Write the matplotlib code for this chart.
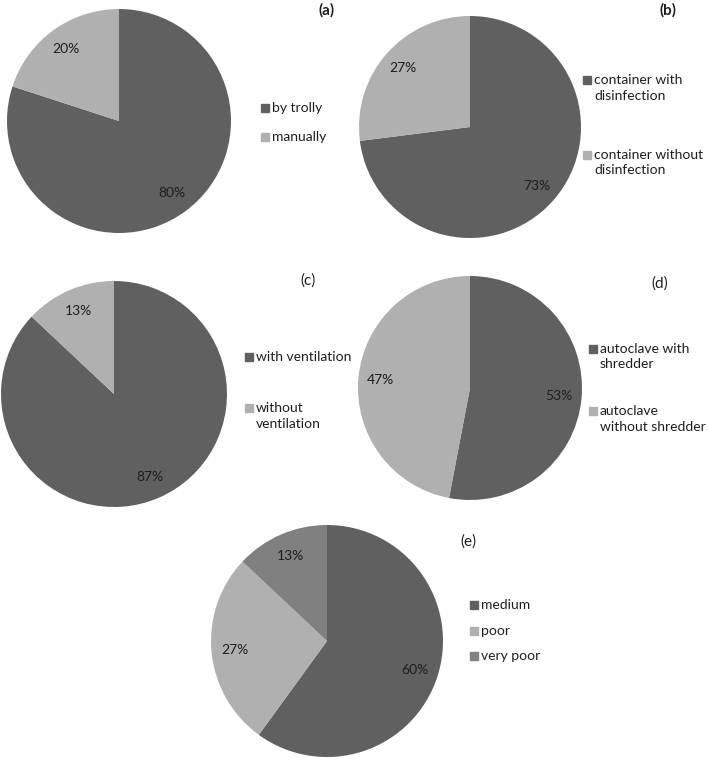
import matplotlib
matplotlib.use("Agg")
from matplotlib import pyplot as plt
from matplotlib.patches import Rectangle

plt.rcParams['font.family'] = ['Lato', 'DejaVu Sans']

# Data for the five pies
labels_a = ["by trolly", "manually"]
values_a = [80, 20]
labels_b = ["container with\ndisinfection", "container without\ndisinfection"]
values_b = [73, 27]
labels_c = ["with ventilation", "without\nventilation"]
values_c = [87, 13]
labels_d = ["autoclave with\nshredder", "autoclave\nwithout shredder"]
values_d = [53, 47]
labels_e = ["medium", "poor", "very poor"]
values_e = [60, 27, 13]

DARK = "#606060"
LIGHT = "#b0b0b0"
MID = "#808080"
TXT = "#1e1e1e"
FS = 10

W, H = 708, 758
fig = plt.figure(figsize=(W / 100, H / 100), dpi=100)


def fx(x):
    return x / W


def fy(y):
    return 1 - y / H


def draw_pie(values, colors, cx, cy, r):
    # axes box in pixel coords, square around the centre
    ax = fig.add_axes([fx(cx - r), fy(cy + r), 2 * r / W, 2 * r / H])
    ax.pie(values, colors=colors, startangle=90, counterclock=False,
           autopct=lambda p: '%.0f%%' % p, pctdistance=0.8,
           textprops={'fontsize': FS, 'color': TXT})
    ax.set_xlim(-1, 1)
    ax.set_ylim(-1, 1)
    ax.set_aspect('auto')
    ax.axis('off')
    return ax


def draw_legend(labels, colors, x, ys, size=8):
    # y = centre of the first line of each entry
    for lab, col, y in zip(labels, colors, ys):
        fig.patches.append(Rectangle((fx(x), fy(y + size / 2)), size / W, size / H,
                                     transform=fig.transFigure, color=col))
        fig.text(fx(x + size + 3), fy(y - 6), lab, fontsize=FS, color=TXT,
                 va='top', ha='left', linespacing=1.35)


# (a)
draw_pie(values_a, [DARK, LIGHT], 119, 121, 112)
draw_legend(labels_a, [DARK, LIGHT], 261, [108, 137])
fig.text(fx(327), fy(10), "(a)", fontsize=11, fontweight='bold', ha='center', va='center', color=TXT)

# (b)
draw_pie(values_b, [DARK, LIGHT], 470, 127, 111)
draw_legend(labels_b, [DARK, LIGHT], 583, [80, 155])
fig.text(fx(668), fy(10), "(b)", fontsize=11, fontweight='bold', ha='center', va='center', color=TXT)

# (c)
draw_pie(values_c, [DARK, LIGHT], 114, 394, 113)
draw_legend(labels_c, [DARK, LIGHT], 245, [357, 408])
fig.text(fx(308), fy(281), "(c)", fontsize=11, ha='center', va='center', color=TXT)

# (d)
draw_pie(values_d, [DARK, LIGHT], 470, 388, 112)
draw_legend(labels_d, [DARK, LIGHT], 589, [349, 411])
fig.text(fx(660), fy(284), "(d)", fontsize=11, ha='center', va='center', color=TXT)

# (e)
draw_pie(values_e, [DARK, LIGHT, MID], 327, 641, 116)
draw_legend(labels_e, [DARK, LIGHT, MID], 470, [605, 631, 656])
fig.text(fx(468), fy(542), "(e)", fontsize=11, ha='center', va='center', color=TXT)

fig.savefig("out.png", dpi=100, facecolor='white')
